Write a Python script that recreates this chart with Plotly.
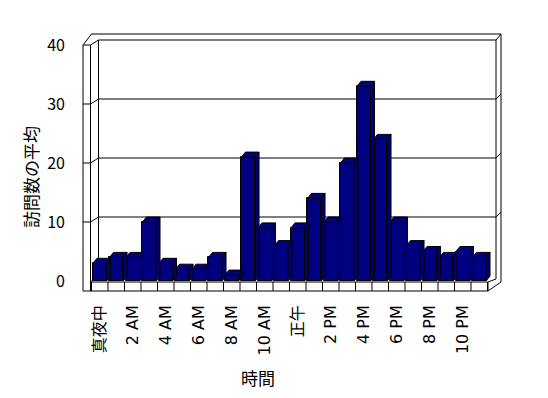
import plotly.graph_objects as go

# ---------------- data ----------------
hours = list(range(24))
visits = [3, 4, 4, 10, 3, 2, 2, 4, 1, 21, 9, 6, 9, 14, 10, 20, 33, 24, 10, 6, 5, 4, 5, 4]
tick_pos = [0, 2, 4, 6, 8, 10, 12, 14, 16, 18, 20, 22]
tick_text = ["真夜中", "2 AM", "4 AM", "6 AM", "8 AM", "10 AM", "正午",
             "2 PM", "4 PM", "6 PM", "8 PM", "10 PM"]
y_ticks = [0, 10, 20, 30, 40]
x_title = "時間"
y_title = "訪問数の平均"

# ---------------- geometry (style) ----------------
W, H = 548, 398
PLOT_L, PLOT_R, PLOT_T, PLOT_B = 76, 506, 26, 296
CAT0_PX, PPU_X = 99.75, 16.5      # pixel of category 0, pixels per category
ZERO_PX, PPU_Y = 281.0, 5.9       # pixel of value 0 (front), pixels per unit

def fx(px):
    return (px - CAT0_PX) / PPU_X

def fy(py):
    return (ZERO_PX - py) / PPU_Y

def yf(v):  # front pixel y of a value
    return ZERO_PX - v * PPU_Y

NAVY = "#000080"
FONT = "Noto Sans CJK JP, DejaVu Sans, sans-serif"
XFONT = "DejaVu Sans, Noto Sans CJK JP, sans-serif"

n = len(hours)
L_px = CAT0_PX - 0.5 * PPU_X          # left category edge
R_px = CAT0_PX + (n - 0.5) * PPU_X    # right category edge
WALL_L = L_px - 8.5                   # left wall front face left
WALL_R = L_px - 1.0
BACK_DX, BACK_DY = 7.5, 5.0           # depth offset of the back wall
FLOOR_TOP, FLOOR_BOT = ZERO_PX + 1, ZERO_PX + 10
TOP_OUT = yf(y_ticks[-1]) - 11
RIGHT_OUT = R_px + 13.5

def path(points, close=False):
    s = "M " + " L ".join(f"{fx(a):.5f},{fy(b):.5f}" for a, b in points)
    return s + (" Z" if close else "")

shapes = []
line = dict(color="black", width=1)
# outer outline
shapes.append(dict(type="path", xref="x", yref="y", layer="below",
                   path=path([(WALL_L, yf(40)), (WALL_R + 1, TOP_OUT), (RIGHT_OUT, TOP_OUT),
                              (RIGHT_OUT, FLOOR_TOP), (R_px + 0.5, FLOOR_BOT),
                              (WALL_L, FLOOR_BOT)], close=True),
                   line=line, fillcolor="white"))
inner_top = yf(y_ticks[-1]) - BACK_DY
back_L = WALL_R + BACK_DX + 0.5
back_R = R_px + 8.5
segs = [
    [(WALL_L, yf(40)), (WALL_R, yf(40)), (back_L, inner_top), (back_R, inner_top), (RIGHT_OUT, TOP_OUT)],
    [(WALL_R, yf(40)), (WALL_R, FLOOR_BOT)],
    [(back_L, inner_top), (back_L, ZERO_PX - BACK_DY)],
    [(back_R, inner_top), (back_R, ZERO_PX - 2), (R_px + 0.5, FLOOR_TOP)],
    [(WALL_R, FLOOR_TOP), (R_px + 0.5, FLOOR_TOP), (R_px + 0.5, FLOOR_BOT)],
    [(WALL_R, FLOOR_TOP), (back_L, ZERO_PX - BACK_DY)],
]
for s in segs:
    shapes.append(dict(type="path", xref="x", yref="y", layer="below", path=path(s), line=line))
# category dividers on the floor front
for k in range(n + 1):
    xp = L_px + k * PPU_X
    shapes.append(dict(type="line", xref="x", yref="y", layer="below",
                       x0=fx(xp), x1=fx(xp), y0=fy(FLOOR_TOP), y1=fy(FLOOR_BOT), line=line))
# gridlines on the back wall with the wall ticks
for v in y_ticks[1:-1]:
    y0 = yf(v)
    yb = y0 - BACK_DY
    shapes.append(dict(type="path", xref="x", yref="y", layer="below",
                       path=path([(WALL_L, y0), (WALL_R, y0), (back_L, yb), (back_R, yb),
                                  (RIGHT_OUT, yb - 5)]), line=line))

# ---------------- bars ----------------
BW = 0.82
DX, DY = 4.0 / PPU_X, 5.0 / PPU_Y
top_x, top_y, side_x, side_y = [], [], [], []
for h, v in zip(hours, visits):
    xl, xr = h - BW / 2, h + BW / 2
    top_x += [xl, xr, xr + DX, xl + DX, xl, None]
    top_y += [v, v, v + DY, v + DY, v, None]
    side_x += [xr, xr + DX, xr + DX, xr, xr, None]
    side_y += [0, DY, v + DY, v, 0, None]

fig = go.Figure()
fig.add_trace(go.Bar(x=hours, y=visits, width=BW, marker=dict(color=NAVY, line=dict(color="black", width=1)),
                     hoverinfo="skip"))
fig.add_trace(go.Scatter(x=side_x, y=side_y, mode="lines", fill="toself", fillcolor="#000074",
                         line=dict(color="black", width=1), hoverinfo="skip"))
fig.add_trace(go.Scatter(x=top_x, y=top_y, mode="lines", fill="toself", fillcolor=NAVY,
                         line=dict(color="black", width=1), hoverinfo="skip"))

def paper_x(px):
    return (px - PLOT_L) / (PLOT_R - PLOT_L)

def paper_y(py):
    return (PLOT_B - py) / (PLOT_B - PLOT_T)

fig.update_layout(
    width=W, height=H,
    margin=dict(l=PLOT_L, r=W - PLOT_R, t=PLOT_T, b=H - PLOT_B),
    paper_bgcolor="white", plot_bgcolor="white",
    showlegend=False,
    font=dict(family=FONT, color="black", size=15),
    xaxis=dict(range=[fx(PLOT_L), fx(PLOT_R)], showgrid=False, zeroline=False, showline=False,
               tickmode="array", tickvals=tick_pos, ticktext=tick_text, tickangle=-90,
               ticks="", tickfont=dict(size=16, family=XFONT), ticklabelstandoff=5),
    yaxis=dict(range=[fy(PLOT_B), fy(PLOT_T)], showgrid=False, zeroline=False, showline=False,
               tickmode="array", tickvals=y_ticks, ticks="", tickfont=dict(size=16, family=FONT),
               ticklabelstandoff=10),
    shapes=shapes,
    annotations=[
        dict(text=y_title, xref="paper", yref="paper", x=paper_x(30), y=paper_y(177),
             showarrow=False, textangle=-90, font=dict(size=17, family=FONT),
             xanchor="center", yanchor="middle"),
        dict(text=x_title, xref="paper", yref="paper", x=paper_x(258), y=paper_y(377),
             showarrow=False, font=dict(size=17, family=FONT), xanchor="center", yanchor="middle"),
    ],
    bargap=0,
)
fig.write_html("out.html")
